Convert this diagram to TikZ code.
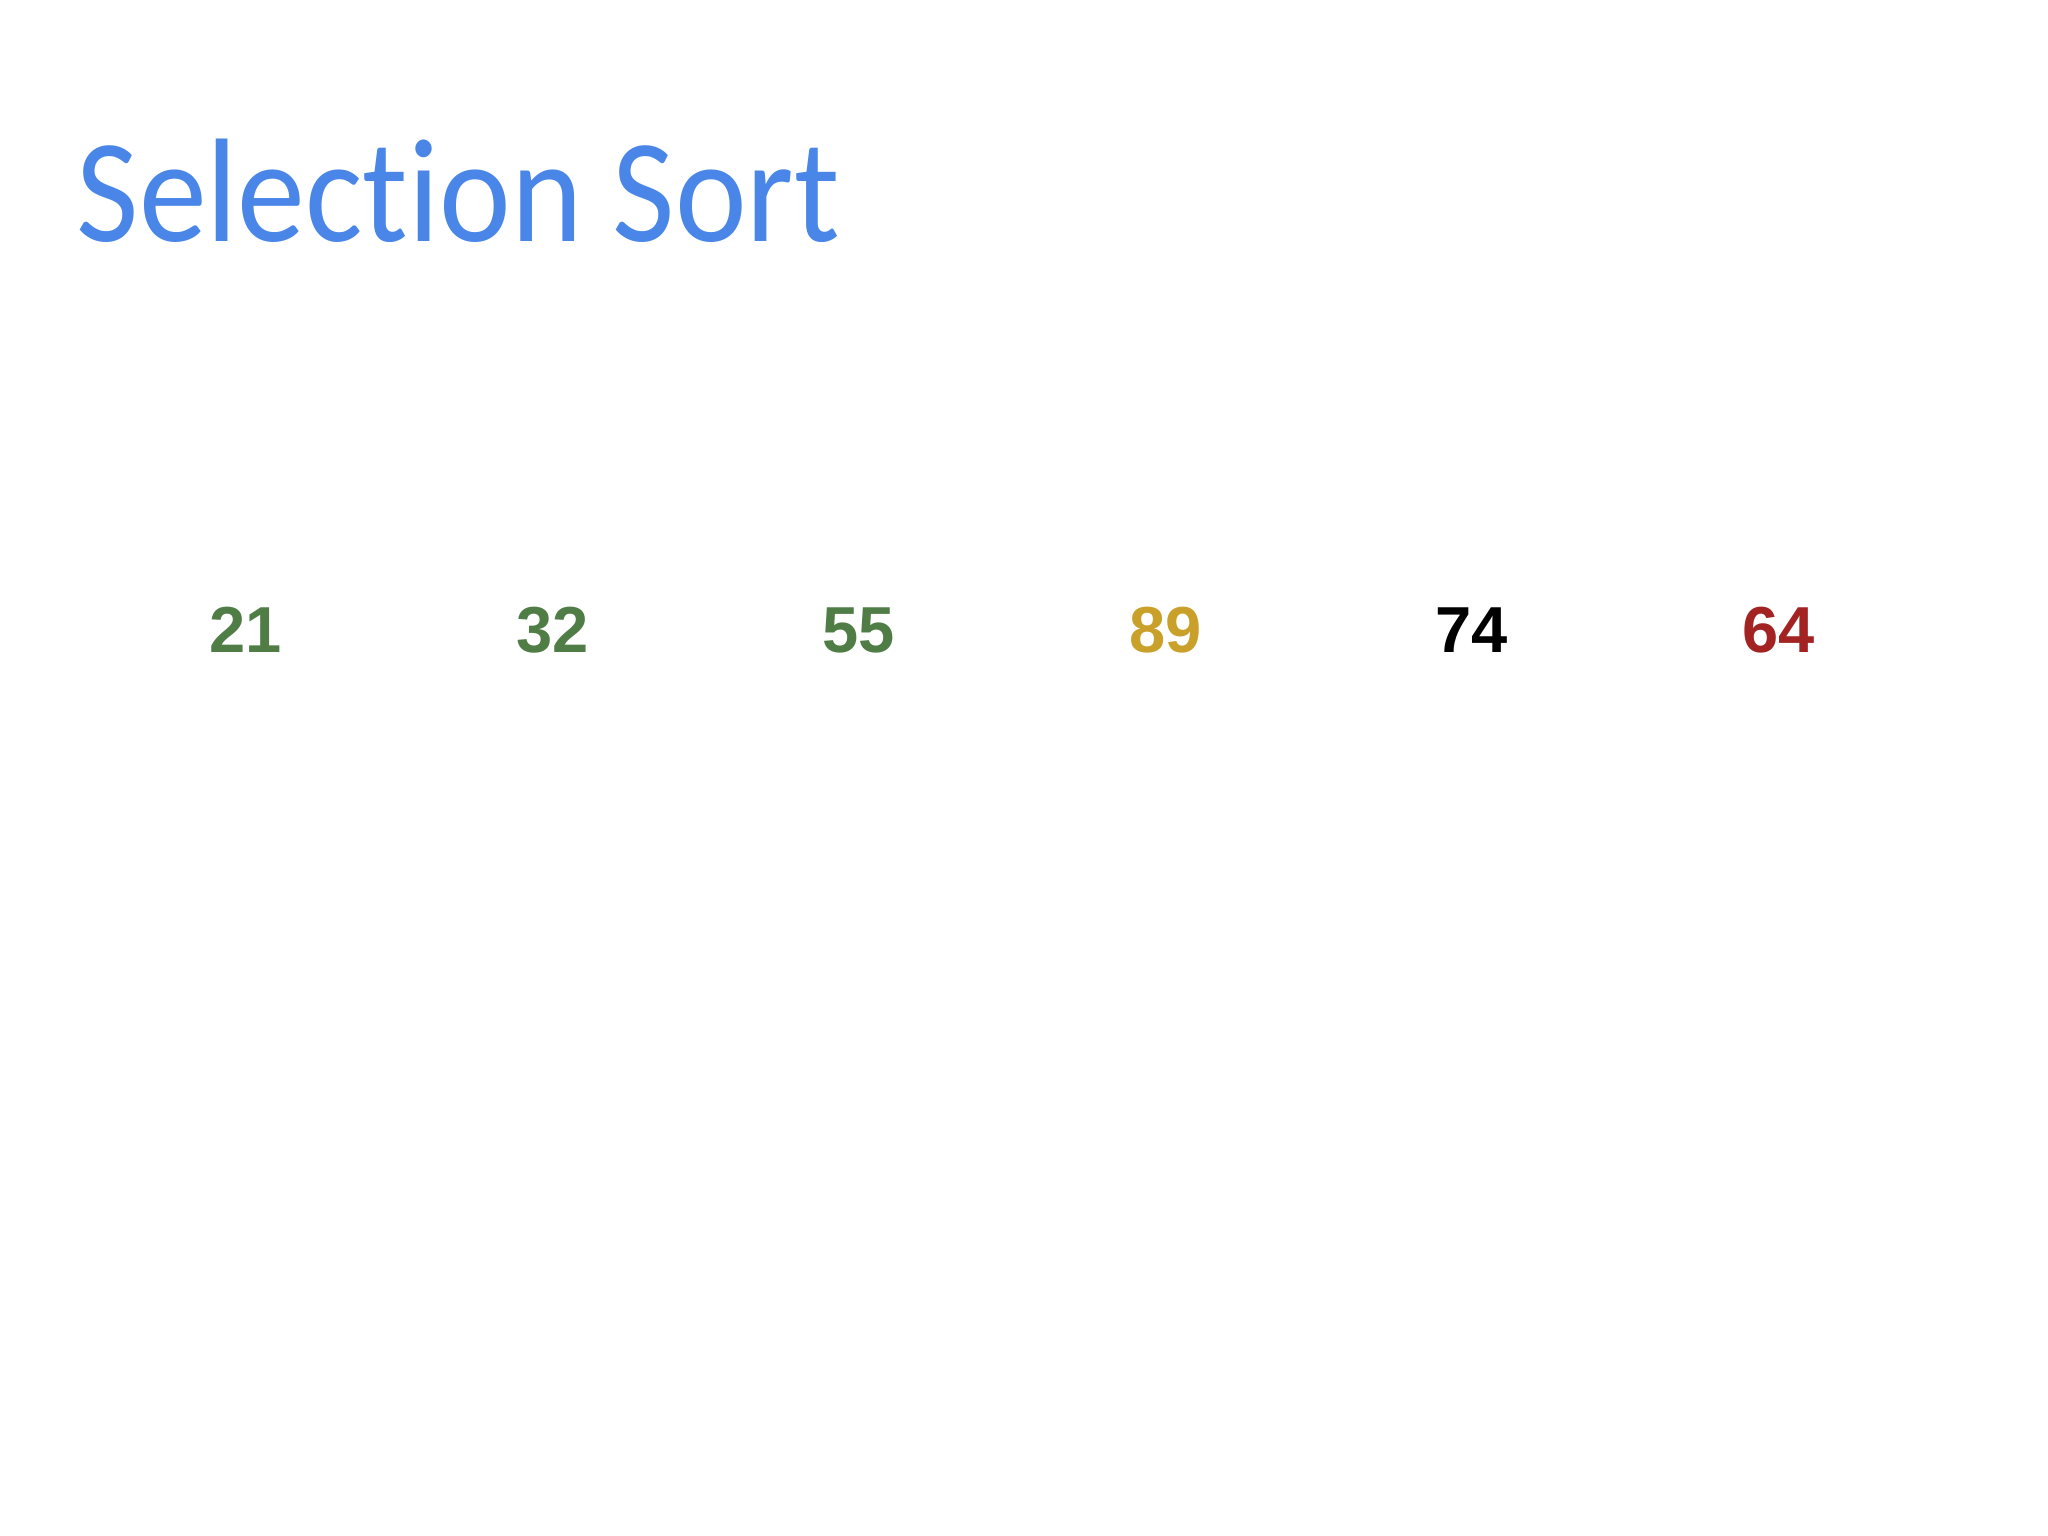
\documentclass[tikz,border=0pt]{standalone}
\usepackage{fontspec}
\setmainfont{Liberation Sans}
\newfontfamily\titlefont[Ligatures=NoCommon]{Carlito}
\usetikzlibrary{positioning}
\definecolor{titleblue}{HTML}{4A86E8}
\definecolor{sortedgreen}{HTML}{507D46}
\definecolor{mingold}{HTML}{C9A02A}
\definecolor{curred}{HTML}{A32222}
\tikzset{node distance=3.065cm,
every node/.style={inner sep=0pt},
elem/.style={
font=\fontsize{18.5}{18.5}\selectfont\bfseries}}

\begin{document}
\begin{tikzpicture}
\useasboundingbox (0,0) rectangle (20.48,-15.36);
\node[anchor=base west, text=titleblue, font=\titlefont\fontsize{42}{42}\selectfont] (title) at (0.76,-2.42) {\scalebox{0.92}[1]{Selection Sort}};
\node[elem, text=sortedgreen] (a1) at (2.46,-6.30) {21};
\node[elem, text=sortedgreen, right of=a1] (a2) {32};
\node[elem, text=sortedgreen, right of=a2] (a3) {55};
\node[elem, text=mingold, right of=a3] (a4) {89};
\node[elem, text=black, right of=a4] (a5) {74};
\node[elem, text=curred, right of=a5] (a6) {64};
\end{tikzpicture}
\end{document}
